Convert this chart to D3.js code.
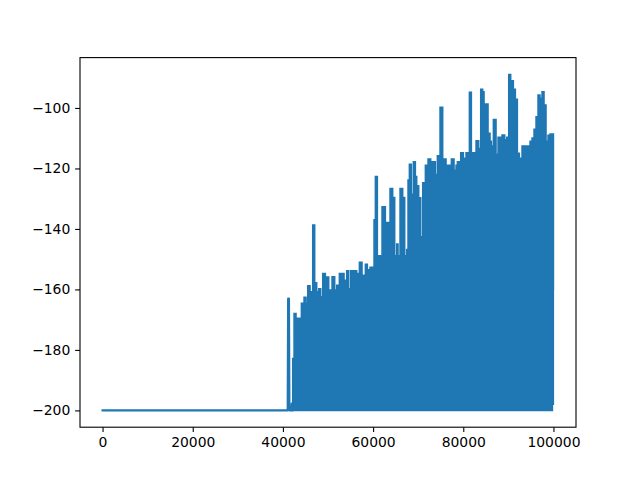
<!DOCTYPE html>
<html>
<head>
<meta charset="utf-8">
<script src="https://cdn.jsdelivr.net/npm/d3@7"></script>
<style>
  body { margin: 0; background: #fff; }
  svg { display: block; }
  text { font-family: "DejaVu Sans", sans-serif; font-size: 13.9px; fill: #000; }
</style>
</head>
<body>
<div id="chart"></div>
<script>
// Flat start of the run (single line): episodes stuck at -200, one early spike
const lineSteps  = [0, 40900, 41050, 41150, 41350, 41450, 41850, 41950, 42050, 42150];
const lineValues = [-200, -200, -200, -163, -163, -200, -200, -197.7, -197.7, -200];

// Dense part: the line swings between a floor and a ceiling every few steps,
// so it is kept as a band (step where the level changes, top, bottom)
const bandSteps = [
  42170, 42470, 42910, 43800, 44095, 44687, 45130, 45500, 46017, 46460,
  46608, 47052, 47495, 47939, 48382, 48826, 49417, 49713, 50156, 50895,
  51487, 51930, 52521, 52817, 53113, 53556, 54147, 54591, 55034, 56365,
  56956, 57548, 58287, 58730, 59322, 60209, 60505, 60948, 61983, 62722,
  63018, 63462, 63757, 64349, 64792, 65236, 65532, 65975, 66566, 67010,
  67453, 67749, 68045, 68488, 68932, 69375, 69672, 70116, 70559, 71003,
  71594, 72185, 72777, 73812, 74255, 74847, 75438, 75734, 76178, 76473,
  77065, 77361, 77952, 78396, 78691, 79430, 80022, 80613, 81352, 81796,
  82092, 82831, 83422, 83866, 84309, 84605, 85492, 85935, 86231, 86675,
  87266, 87709, 88596, 89188, 89631, 90075, 90518, 91110, 91553, 91997,
  92440, 93031, 94805, 95249, 95692, 96136, 96579, 97023, 97466, 97910,
  98353, 98797, 99240, 99770, 99980, 99999
];
const bandHigh = [
  -182.8, -168, -169.5, -174.5, -164.6, -162.6, -164.7, -158.8, -160.8, -165,
  -138.7, -157.8, -160.8, -159.8, -162.4, -154.7, -159.2, -155.9, -160.2, -155.8,
  -160.2, -158.6, -154.7, -157, -154.7, -157, -153.8, -159.8, -153.8, -154.7,
  -151, -155.3, -151.7, -153.5, -152.7, -137, -122.7, -148.9, -132.7, -151,
  -137.9, -148, -126.6, -129.6, -148.9, -145, -148.9, -126.6, -129.6, -148.9,
  -146.8, -123.8, -118.6, -128.5, -117.8, -122.7, -125.7, -129.7, -142.6, -124.7,
  -118.9, -116.9, -117.8, -122, -115.8, -99.8, -122, -116.9, -122, -118.9,
  -124, -116.9, -120.6, -118.9, -117.8, -114.8, -116.6, -114.8, -94.8, -117,
  -114.8, -110.8, -113.4, -93.8, -94.6, -98.7, -108.4, -111, -112.6, -103.8,
  -115.3, -109.7, -108.9, -110.5, -109.7, -88.9, -91, -93.8, -97.1, -115,
  -116.6, -112.6, -111, -109.9, -107, -102.9, -95.7, -96.8, -94.6, -99,
  -111, -109, -108.6, -108.6, -108.6, -108.6
];
const bandLow = [
  -200, -200, -200, -200, -200, -200, -200, -200, -200, -200,
  -200, -200, -200, -200, -200, -200, -200, -200, -200, -200,
  -200, -200, -200, -200, -200, -200, -200, -200, -200, -200,
  -200, -200, -200, -200, -200, -200, -200, -200, -200, -200,
  -200, -200, -200, -200, -200, -200, -200, -200, -200, -200,
  -200, -200, -200, -200, -200, -200, -200, -200, -200, -200,
  -200, -200, -200, -200, -200, -200, -200, -200, -200, -200,
  -200, -200, -200, -200, -200, -200, -200, -200, -200, -200,
  -200, -200, -200, -200, -200, -200, -200, -200, -200, -200,
  -200, -200, -200, -200, -200, -200, -200, -200, -200, -200,
  -200, -200, -200, -200, -200, -200, -200, -200, -200, -200,
  -200, -200, -200, -198, -160, -160
];

const xTicks = [0, 20000, 40000, 60000, 80000, 100000];
const yTicks = [-200, -180, -160, -140, -120, -100];

const width = 640;
const height = 480;
const margin = { top: 57.6, right: 64, bottom: 52.8, left: 80 };
const color = '#1f77b4';

const svg = d3.select('#chart')
  .append('svg')
  .attr('width', width)
  .attr('height', height);

// matplotlib-style 5% padding around the data range
const xMin = 0, xMax = 99999;
const yAll = lineValues.concat(bandHigh, bandLow);
const yMin = d3.min(yAll), yMax = d3.max(yAll);
const xPad = (xMax - xMin) * 0.05;
const yPad = (yMax - yMin) * 0.05;

const x = d3.scaleLinear()
  .domain([xMin - xPad, xMax + xPad])
  .range([margin.left, width - margin.right]);

const y = d3.scaleLinear()
  .domain([yMin - yPad, yMax + yPad])
  .range([height - margin.bottom, margin.top]);

const plot = svg.append('g').attr('class', 'plot');

// Band for the dense oscillation
const band = bandSteps.map((s, i) => ({ step: s, high: bandHigh[i], low: bandLow[i] }));

const area = d3.area()
  .x(d => x(d.step))
  .y0(d => y(d.low))
  .y1(d => y(d.high))
  .curve(d3.curveStepAfter);

plot.append('path')
  .datum(band)
  .attr('d', area)
  .attr('fill', color)
  .attr('stroke', color)
  .attr('stroke-width', 1.5)
  .attr('stroke-linejoin', 'miter');

// Flat start
const line = d3.line()
  .x((d, i) => x(lineSteps[i]))
  .y(d => y(d));

plot.append('path')
  .datum(lineValues)
  .attr('d', line)
  .attr('fill', 'none')
  .attr('stroke', color)
  .attr('stroke-width', 2.08)
  .attr('stroke-linejoin', 'round')
  .attr('stroke-linecap', 'square');

// Axes
const xAxis = d3.axisBottom(x)
  .tickValues(xTicks)
  .tickSize(4.86)
  .tickPadding(4.86)
  .tickFormat(d3.format('d'));

const yAxis = d3.axisLeft(y)
  .tickValues(yTicks)
  .tickSize(4.86)
  .tickPadding(4.86)
  .tickFormat(d => String(d).replace('-', '\u2212'));

const gx = svg.append('g')
  .attr('transform', `translate(0,${height - margin.bottom})`)
  .call(xAxis);

const gy = svg.append('g')
  .attr('transform', `translate(${margin.left},0)`)
  .call(yAxis);

[gx, gy].forEach(g => {
  g.select('.domain').remove();
  g.selectAll('.tick line').attr('stroke', '#000').attr('stroke-width', 1.1);
  g.selectAll('.tick text').attr('font-size', 13.9).attr('font-family', '"DejaVu Sans", sans-serif');
});

// Frame
svg.append('rect')
  .attr('x', margin.left)
  .attr('y', margin.top)
  .attr('width', width - margin.left - margin.right)
  .attr('height', height - margin.top - margin.bottom)
  .attr('fill', 'none')
  .attr('stroke', '#000')
  .attr('stroke-width', 1.1);
</script>
</body>
</html>
